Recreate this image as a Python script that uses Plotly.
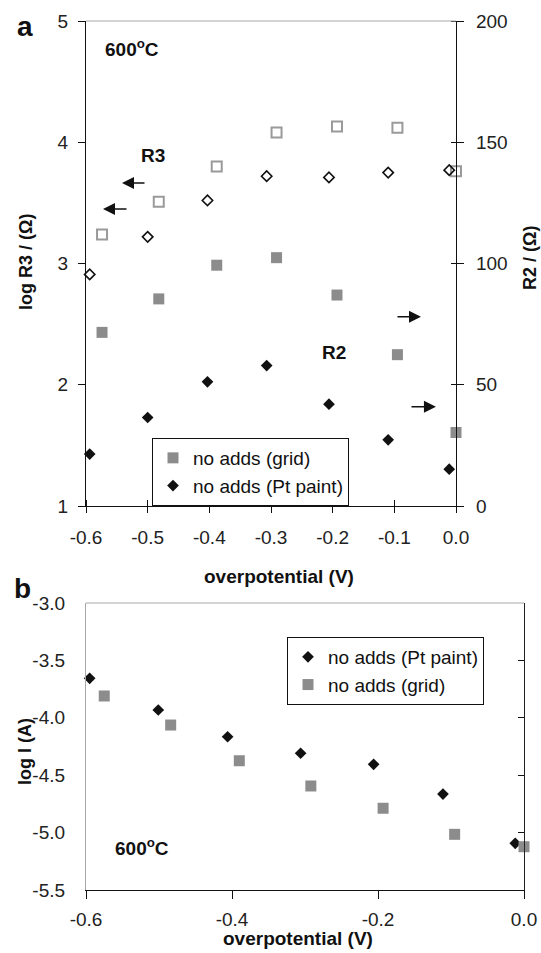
import plotly.graph_objects as go

W, H = 541, 953
FONT = "Liberation Sans, Arial, sans-serif"
GRAY = "#8c8c8c"

# ---------------- data: panel a ----------------
a_x_pt = [-0.594, -0.500, -0.403, -0.307, -0.206, -0.110, -0.011]
a_x_grid = [-0.574, -0.482, -0.388, -0.291, -0.193, -0.095, 0.000]
a_logR3_grid = [3.24, 3.51, 3.80, 4.08, 4.13, 4.12, 3.76]
a_logR3_pt = [2.91, 3.22, 3.52, 3.72, 3.71, 3.75, 3.77]
a_R2_grid = [71.6, 85.4, 99.3, 102.4, 87.0, 62.4, 30.3]
a_R2_pt = [21.4, 36.5, 51.2, 57.9, 42.0, 27.3, 15.2]

# ---------------- data: panel b ----------------
b_x_pt = [-0.595, -0.501, -0.406, -0.306, -0.206, -0.111, -0.012]
b_logI_pt = [-3.656, -3.932, -4.165, -4.309, -4.405, -4.664, -5.093]
b_x_grid = [-0.575, -0.484, -0.390, -0.292, -0.193, -0.095, 0.000]
b_logI_grid = [-3.810, -4.063, -4.374, -4.594, -4.788, -5.015, -5.123]

# ---------------- tick labels ----------------
a_xticks = [-0.6, -0.5, -0.4, -0.3, -0.2, -0.1, 0.0]
a_xlabels = ["-0.6", "-0.5", "-0.4", "-0.3", "-0.2", "-0.1", "0.0"]
a_yticks = [1, 2, 3, 4, 5]
a_y2ticks = [0, 50, 100, 150, 200]
b_xticks = [-0.6, -0.4, -0.2, 0.0]
b_xlabels = ["-0.6", "-0.4", "-0.2", "0.0"]
b_yticks = [-5.5, -5.0, -4.5, -4.0, -3.5, -3.0]
b_ylabels = ["-5.5", "-5.0", "-4.5", "-4.0", "-3.5", "-3.0"]


def px(x):
    return x / W


def py(y):
    return 1 - y / H


fig = go.Figure()

# panel a: R3 (open, left axis)
fig.add_trace(go.Scatter(x=a_x_grid, y=a_logR3_grid, mode="markers", xaxis="x", yaxis="y",
                         marker=dict(symbol="square-open", size=10, color="#9a9a9a", line=dict(width=2)),
                         showlegend=False, cliponaxis=False))
fig.add_trace(go.Scatter(x=a_x_pt, y=a_logR3_pt, mode="markers", xaxis="x", yaxis="y",
                         marker=dict(symbol="diamond-open", size=8, color="#111111", line=dict(width=1.6)),
                         showlegend=False, cliponaxis=False))
# panel a: R2 (filled, right axis)
fig.add_trace(go.Scatter(x=a_x_grid, y=a_R2_grid, mode="markers", xaxis="x", yaxis="y2",
                         name="no adds (grid)", legend="legend",
                         marker=dict(symbol="square", size=11, color=GRAY),
                         cliponaxis=False))
fig.add_trace(go.Scatter(x=a_x_pt, y=a_R2_pt, mode="markers", xaxis="x", yaxis="y2",
                         name="no adds (Pt paint)", legend="legend",
                         marker=dict(symbol="diamond", size=9, color="#111111"),
                         cliponaxis=False))

# panel b
fig.add_trace(go.Scatter(x=b_x_pt, y=b_logI_pt, mode="markers", xaxis="x2", yaxis="y3",
                         name="no adds (Pt paint)", legend="legend2",
                         marker=dict(symbol="diamond", size=9, color="#111111"),
                         cliponaxis=False))
fig.add_trace(go.Scatter(x=b_x_grid, y=b_logI_grid, mode="markers", xaxis="x2", yaxis="y3",
                         name="no adds (grid)", legend="legend2",
                         marker=dict(symbol="square", size=11, color=GRAY),
                         cliponaxis=False))
# invisible trace to activate the right-hand axis of panel b
fig.add_trace(go.Scatter(x=[b_xticks[0]], y=[b_yticks[0]], mode="markers", xaxis="x2", yaxis="y4",
                         marker=dict(opacity=0), showlegend=False, hoverinfo="skip"))

tickfont = dict(family=FONT, size=19, color="#222222")
common = dict(showgrid=False, zeroline=False, automargin=False)

fig.update_layout(
    template="none",
    width=W, height=H, autosize=False,
    margin=dict(l=0, r=0, t=0, b=0, pad=0),
    paper_bgcolor="white", plot_bgcolor="white",
    font=dict(family=FONT, size=19, color="#111111"),
    xaxis=dict(domain=[px(86), px(456)], anchor="y", range=[-0.6, 0.0],
               tickmode="array", tickvals=a_xticks, ticktext=a_xlabels,
               ticks="outside", ticklen=6, tickcolor="#111", tickwidth=1,
               minor=dict(tickmode="array", tickvals=a_xticks, ticks="inside", ticklen=6,
                          tickcolor="#111", showgrid=False),
               showline=True, linecolor="#111", linewidth=1.2,
               tickfont=tickfont, ticklabelstandoff=8, **common),
    yaxis=dict(domain=[py(506), py(21)], anchor="x", range=[1, 5],
               tickmode="array", tickvals=a_yticks,
               ticks="outside", ticklen=7, tickcolor="#111",
               showline=True, linecolor="#111", linewidth=1.2,
               tickfont=tickfont, ticklabelstandoff=6, **common),
    yaxis2=dict(overlaying="y", anchor="x", side="right", range=[0, 200],
                tickmode="array", tickvals=a_y2ticks,
                ticks="outside", ticklen=7, tickcolor="#111",
                minor=dict(tickmode="array", tickvals=a_y2ticks, ticks="inside", ticklen=5,
                           tickcolor="#111", showgrid=False),
                showline=True, linecolor="#111", linewidth=1.2,
                tickfont=tickfont, ticklabelstandoff=8, **common),
    xaxis2=dict(domain=[px(86), px(524)], anchor="y3", range=[-0.6, 0.0],
                tickmode="array", tickvals=b_xticks, ticktext=b_xlabels,
                ticks="outside", ticklen=8, tickcolor="#111",
                showline=True, linecolor="#111", linewidth=1.2,
                tickfont=tickfont, ticklabelstandoff=4, **common),
    yaxis3=dict(domain=[py(890), py(603)], anchor="x2", range=[-5.5, -3.0],
                tickmode="array", tickvals=b_yticks, ticktext=b_ylabels,
                ticks="", showline=True, linecolor="#a8a8a8", linewidth=1.2,
                tickfont=tickfont, ticklabelstandoff=16, **common),
    yaxis4=dict(overlaying="y3", anchor="x2", side="right", range=[-5.5, -3.0],
                tickmode="array", tickvals=b_yticks, showticklabels=False,
                ticks="inside", ticklen=6, tickcolor="#111",
                showline=True, linecolor="#222", linewidth=1.2, **common),
    legend=dict(x=px(152), y=py(438), xanchor="left", yanchor="top",
                bordercolor="#111", borderwidth=1, bgcolor="white",
                font=dict(family=FONT, size=19, color="#111"), itemwidth=30,
                tracegroupgap=0),
    legend2=dict(x=px(287), y=py(637), xanchor="left", yanchor="top",
                 bordercolor="#111", borderwidth=1, bgcolor="white",
                 font=dict(family=FONT, size=19, color="#111"), itemwidth=30,
                 tracegroupgap=0),
    showlegend=True,
)

# gray top borders
fig.add_shape(type="line", xref="x domain", yref="y domain", x0=0, x1=1, y0=1, y1=1,
              line=dict(color="#a8a8a8", width=1.2))
fig.add_shape(type="line", xref="x2 domain", yref="y3 domain", x0=0, x1=1, y0=1, y1=1,
              line=dict(color="#a8a8a8", width=1.2))

center = dict(xanchor="center", yanchor="middle", showarrow=False)
ann = []
# panel labels
ann.append(dict(text="<b>a</b>", x=px(25), y=py(27), xref="paper", yref="paper",
                font=dict(size=28, family=FONT, color="#111"), **center))
ann.append(dict(text="<b>b</b>", x=px(22), y=py(588), xref="paper", yref="paper",
                font=dict(size=28, family=FONT, color="#111"), **center))
# axis titles
ann.append(dict(text="<b>overpotential (V)</b>", x=px(279), y=py(576), xref="paper", yref="paper",
                font=dict(size=19, family=FONT, color="#111"), **center))
ann.append(dict(text="<b>overpotential (V)</b>", x=px(298), y=py(938), xref="paper", yref="paper",
                font=dict(size=19, family=FONT, color="#111"), **center))
ann.append(dict(text="<b>log R3 / (Ω)</b>", x=px(26), y=py(262), xref="paper", yref="paper",
                textangle=-90, font=dict(size=18, family=FONT, color="#111"), **center))
ann.append(dict(text="<b>R2 / (Ω)</b>", x=px(530), y=py(258), xref="paper", yref="paper",
                textangle=-90, font=dict(size=18, family=FONT, color="#111"), **center))
ann.append(dict(text="<b>log I (A)</b>", x=px(25), y=py(752), xref="paper", yref="paper",
                textangle=-90, font=dict(size=18, family=FONT, color="#111"), **center))
# in-plot labels
ann.append(dict(text="<b>600<sup>o</sup>C</b>", x=-0.5254, y=4.777, xref="x", yref="y",
                font=dict(size=19, family=FONT, color="#111"), **center))
ann.append(dict(text="<b>R3</b>", x=-0.4914, y=3.887, xref="x", yref="y",
                font=dict(size=19, family=FONT, color="#111"), **center))
ann.append(dict(text="<b>R2</b>", x=-0.1979, y=2.264, xref="x", yref="y",
                font=dict(size=19, family=FONT, color="#111"), **center))
ann.append(dict(text="<b>600<sup>o</sup>C</b>", x=-0.5237, y=-5.123, xref="x2", yref="y3",
                font=dict(size=19, family=FONT, color="#111"), **center))
# arrows
arrow_style = dict(text="", showarrow=True, arrowhead=2, arrowsize=1.6, arrowwidth=1.5,
                   arrowcolor="#111", xref="x", yref="y", axref="pixel", ayref="pixel", standoff=0)
ann.append(dict(x=-0.5416, y=3.664, ax=24, ay=0, **arrow_style))
ann.append(dict(x=-0.5724, y=3.449, ax=25, ay=0, **arrow_style))
ann.append(dict(x=-0.0568, y=2.561, ax=-25, ay=0, **arrow_style))
ann.append(dict(x=-0.0325, y=1.819, ax=-26, ay=0, **arrow_style))

fig.update_layout(annotations=ann)

fig.write_html("out.html")
